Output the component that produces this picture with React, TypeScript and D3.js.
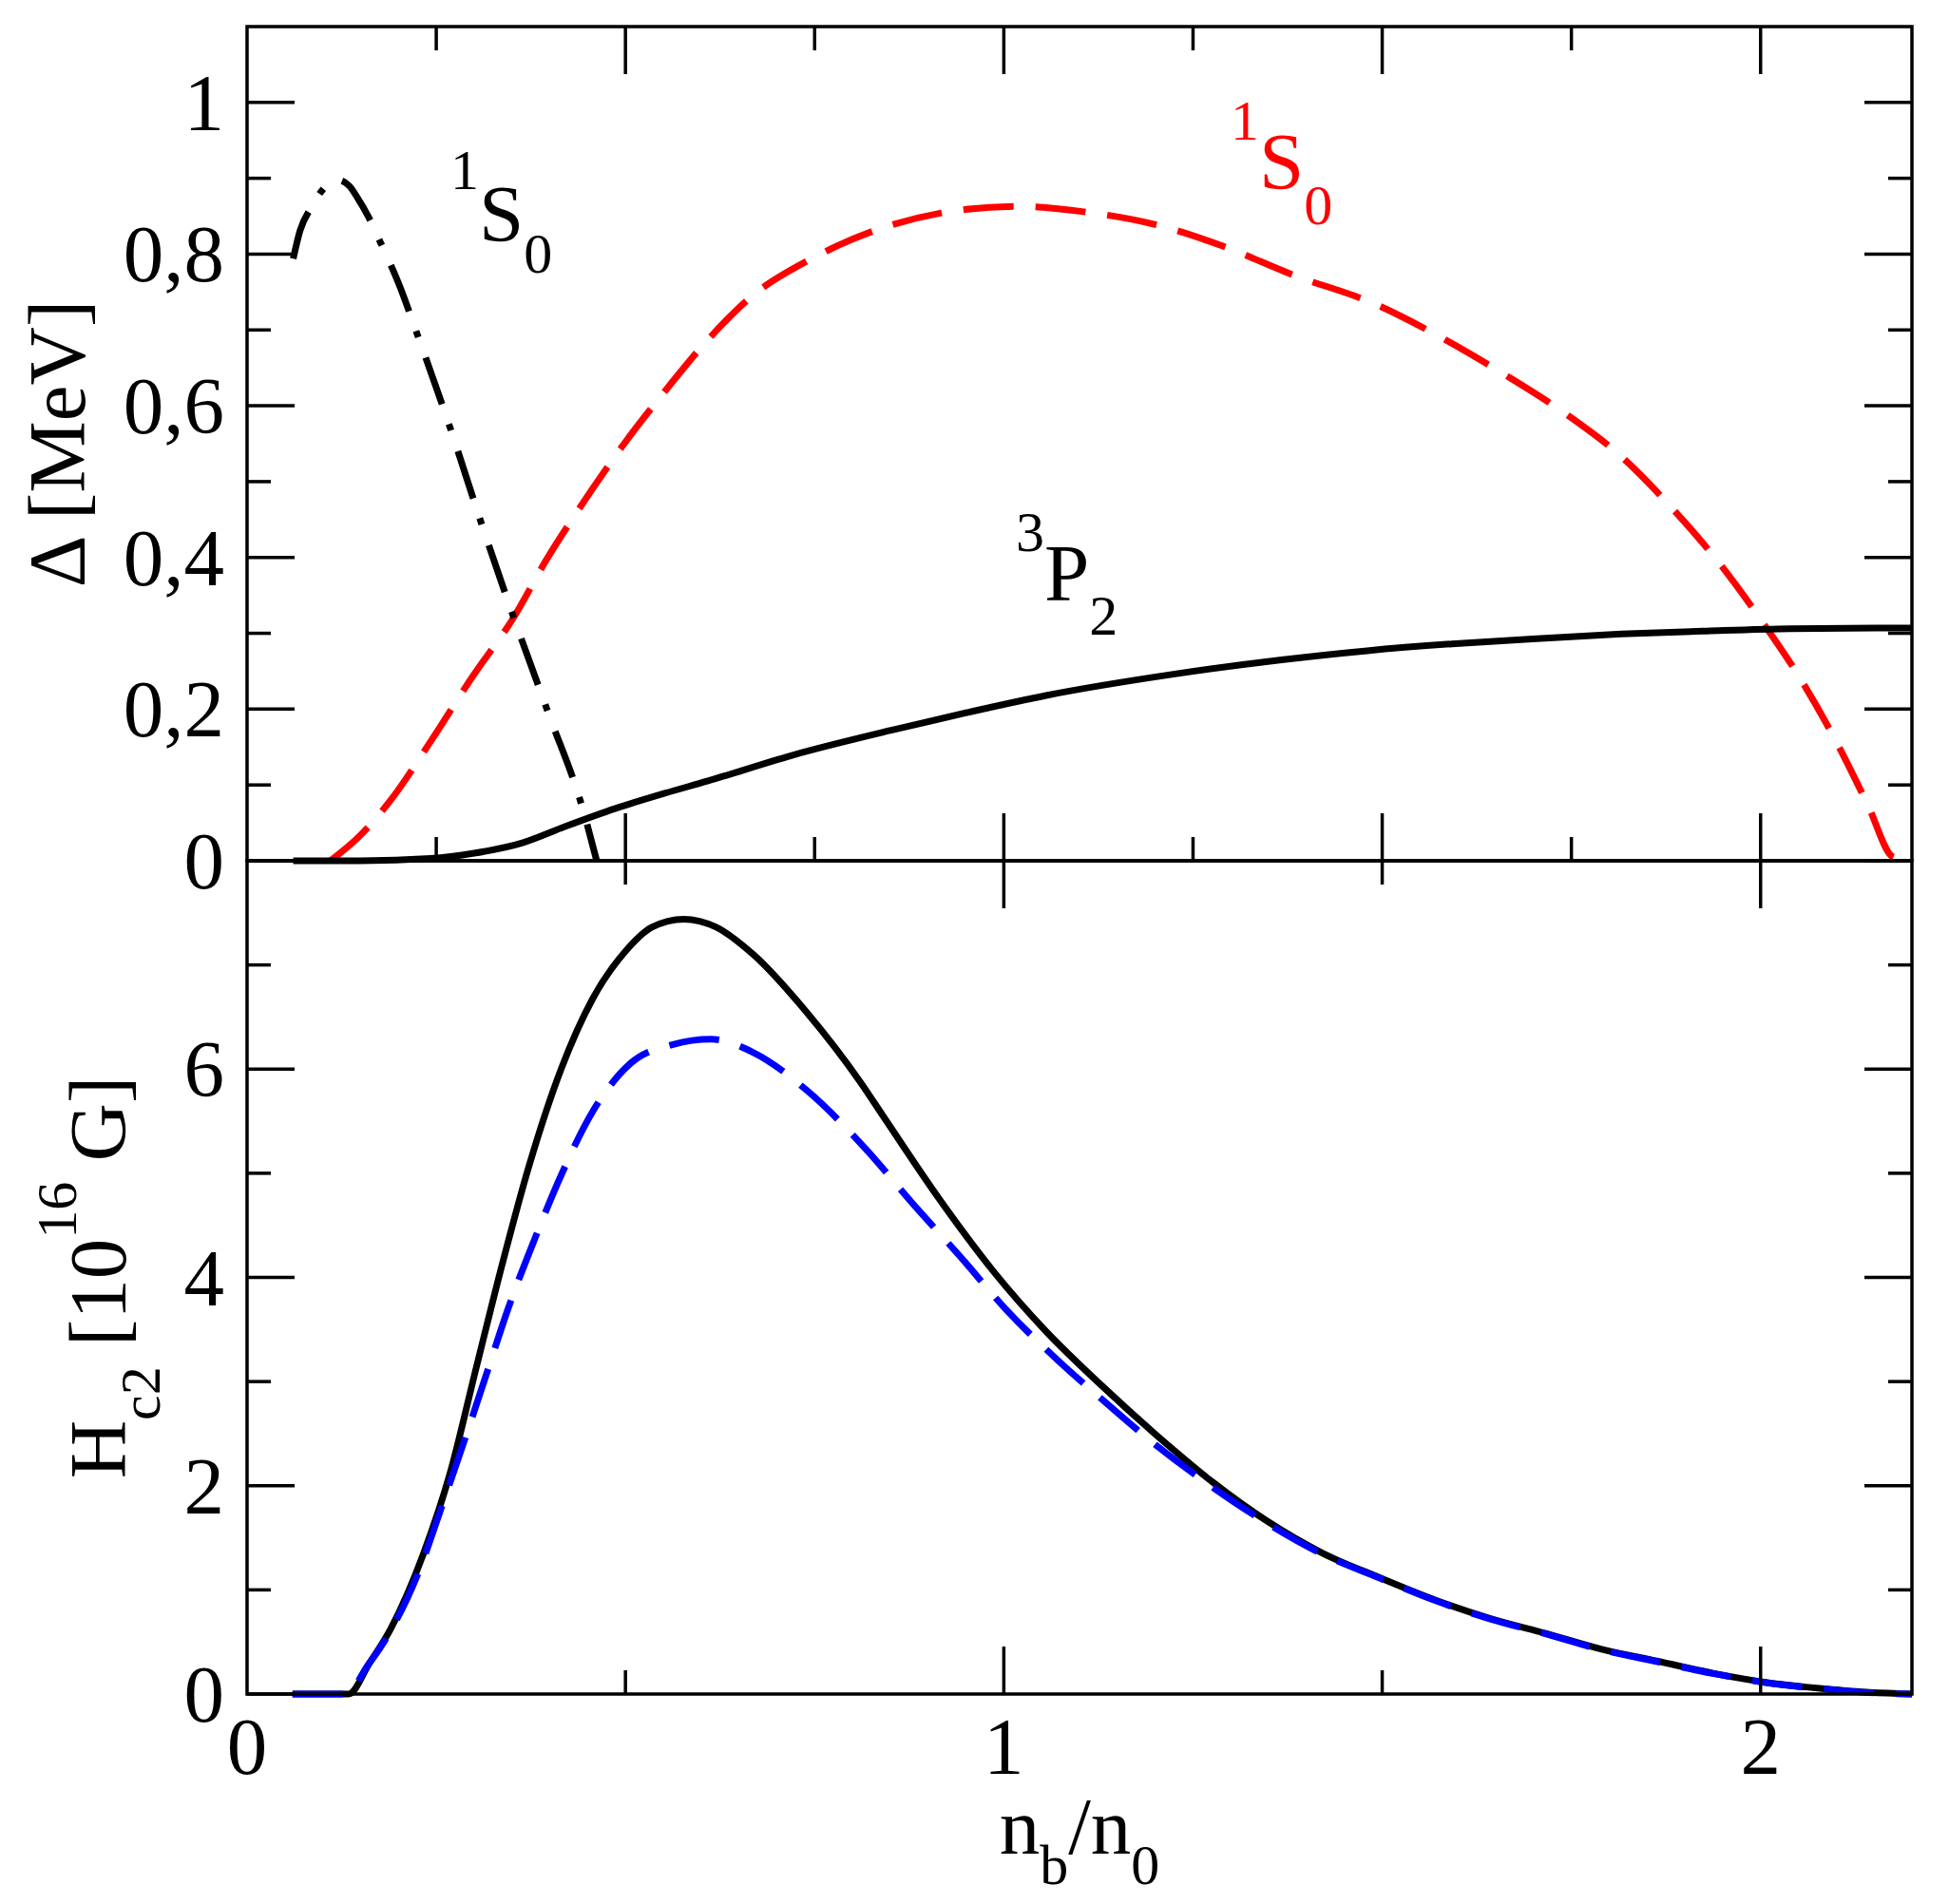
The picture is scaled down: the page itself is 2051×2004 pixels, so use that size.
import React from "react";
import * as d3 from "d3";

// ---------- data ----------
// top panel: gap Δ [MeV] vs n_b/n_0
const n1S0LowX = [0.061, 0.07, 0.085, 0.1, 0.119, 0.135, 0.146, 0.16, 0.176, 0.2, 0.225, 0.268, 0.31, 0.353, 0.398, 0.444, 0.462];
const n1S0LowY = [0.794, 0.831, 0.862, 0.885, 0.898, 0.89, 0.874, 0.85, 0.816, 0.762, 0.694, 0.572, 0.444, 0.319, 0.195, 0.067, 0.0];

const p1S0X = [0.11, 0.146, 0.189, 0.243, 0.298, 0.353, 0.395, 0.444, 0.499, 0.552, 0.608, 0.664, 0.748, 0.832, 0.916, 1.017, 1.112, 1.196, 1.291, 1.381, 1.491, 1.578, 1.662, 1.743, 1.816, 1.883, 1.945, 2.001, 2.052, 2.1, 2.142, 2.175, 2.2];
const p1S0Y = [0.0, 0.03, 0.079, 0.158, 0.243, 0.322, 0.396, 0.472, 0.551, 0.619, 0.686, 0.742, 0.795, 0.832, 0.854, 0.863, 0.855, 0.84, 0.81, 0.773, 0.734, 0.69, 0.641, 0.589, 0.533, 0.465, 0.393, 0.317, 0.241, 0.157, 0.073, 0.005, 0.0];

const n3P2X = [0.061, 0.15, 0.243, 0.3, 0.365, 0.42, 0.487, 0.552, 0.608, 0.72, 0.851, 0.954, 1.056, 1.224, 1.367, 1.48, 1.592, 1.704, 1.816, 1.929, 2.04, 2.2];
const n3P2Y = [0.0, 0.0, 0.003, 0.01, 0.024, 0.045, 0.069, 0.089, 0.105, 0.139, 0.172, 0.196, 0.218, 0.246, 0.265, 0.277, 0.286, 0.293, 0.299, 0.303, 0.306, 0.307];

// bottom panel: H_c2 [10^16 G] vs n_b/n_0
const hc2SolidX = [0.06, 0.134, 0.162, 0.19, 0.233, 0.268, 0.303, 0.338, 0.373, 0.415, 0.457, 0.5, 0.535, 0.577, 0.62, 0.669, 0.739, 0.81, 0.845, 0.915, 0.986, 1.056, 1.128, 1.201, 1.275, 1.348, 1.422, 1.496, 1.569, 1.643, 1.717, 1.79, 1.864, 1.937, 2.011, 2.085, 2.144, 2.2];
const hc2SolidY = [0.0, 0.0, 0.3, 0.629, 1.346, 2.114, 3.138, 4.15, 5.08, 6.0, 6.68, 7.131, 7.362, 7.439, 7.362, 7.1, 6.55, 5.88, 5.5, 4.75, 4.06, 3.48, 2.97, 2.49, 2.04, 1.66, 1.35, 1.12, 0.906, 0.725, 0.58, 0.43, 0.315, 0.2, 0.108, 0.05, 0.015, 0.0];

const hc2DashX = [0.06, 0.13, 0.16, 0.183, 0.225, 0.26, 0.289, 0.317, 0.345, 0.38, 0.415, 0.457, 0.507, 0.563, 0.613, 0.669, 0.739, 0.817, 0.879, 0.942, 1.003, 1.072, 1.128, 1.201, 1.275, 1.348, 1.422, 1.496, 1.569, 1.643, 1.717, 1.79, 1.864, 1.937, 2.011, 2.085, 2.144, 2.2];
const hc2DashY = [0.0, 0.0, 0.28, 0.526, 1.141, 1.858, 2.473, 3.087, 3.701, 4.367, 4.981, 5.596, 6.057, 6.236, 6.287, 6.159, 5.8, 5.237, 4.714, 4.203, 3.691, 3.2, 2.84, 2.39, 1.99, 1.64, 1.34, 1.115, 0.9, 0.72, 0.575, 0.425, 0.31, 0.197, 0.105, 0.048, 0.013, 0.0];

// ticks and labels
const topYLabels = ["0", "0,2", "0,4", "0,6", "0,8", "1"];
const topYMajor = [0, 0.2, 0.4, 0.6, 0.8, 1.0];
const topYMinor = [0.1, 0.3, 0.5, 0.7, 0.9];
const botYLabels = ["0", "2", "4", "6"];
const botYMajor = [0, 2, 4, 6];
const botYMinor = [1, 3, 5, 7];
const topXMajor = [0.5, 1, 1.5, 2];
const topXMinor = [0.25, 0.75, 1.25, 1.75];
const botXMajor = [1, 2];
const botXMinor = [0.5, 1.5];
const xLabels = ["0", "1", "2"];
const xLabelVals = [0, 1, 2];

// ---------- layout ----------
const W = 2051;
const H = 2004;
const L = 260;
const R = 2012;
const T = 28;
const M = 906;
const B = 1783;
const MAJ = 50;
const MIN = 25;
const FONT = "'Liberation Serif', 'Times New Roman', 'DejaVu Serif', serif";
const FS = 85;
const FSS = 60;

const x = d3.scaleLinear().domain([0, 2.2]).range([L, R]);
const yTop = d3.scaleLinear().domain([0, 1.1]).range([M, T]);
const yBot = d3.scaleLinear().domain([0, 8]).range([B, M]);

const zip = (xs: number[], ys: number[]) => xs.map((v, i) => [v, ys[i]] as [number, number]);

const lineTop = d3.line<[number, number]>().x(d => x(d[0])).y(d => yTop(d[1])).curve(d3.curveMonotoneX);
const lineBot = d3.line<[number, number]>().x(d => x(d[0])).y(d => yBot(d[1])).curve(d3.curveMonotoneX);

export default function App() {
  const tickLines: React.ReactNode[] = [];
  let k = 0;
  const tl = (x1: number, y1: number, x2: number, y2: number) =>
    tickLines.push(<line key={k++} x1={x1} y1={y1} x2={x2} y2={y2} stroke="#000" strokeWidth={3.5} />);

  // top panel x ticks
  topXMajor.forEach(v => { tl(x(v), T, x(v), T + MAJ); tl(x(v), M, x(v), M - MAJ); });
  topXMinor.forEach(v => { tl(x(v), T, x(v), T + MIN); tl(x(v), M, x(v), M - MIN); });
  // bottom panel x ticks
  botXMajor.forEach(v => { tl(x(v), M, x(v), M + MAJ); tl(x(v), B, x(v), B - MAJ); });
  botXMinor.forEach(v => { tl(x(v), M, x(v), M + MIN); tl(x(v), B, x(v), B - MIN); });
  // top panel y ticks
  topYMajor.forEach(v => { tl(L, yTop(v), L + MAJ, yTop(v)); tl(R, yTop(v), R - MAJ, yTop(v)); });
  topYMinor.forEach(v => { tl(L, yTop(v), L + MIN, yTop(v)); tl(R, yTop(v), R - MIN, yTop(v)); });
  // bottom panel y ticks
  botYMajor.forEach(v => { tl(L, yBot(v), L + MAJ, yBot(v)); tl(R, yBot(v), R - MAJ, yBot(v)); });
  botYMinor.forEach(v => { tl(L, yBot(v), L + MIN, yBot(v)); tl(R, yBot(v), R - MIN, yBot(v)); });

  return (
    <div>
      <style>{`html,body{margin:0;padding:0;background:#fff;}`}</style>
      <svg width={W} height={H} viewBox={`0 0 ${W} ${H}`} style={{ display: "block" }} fontFamily={FONT}>
        <rect x={0} y={0} width={W} height={H} fill="#fff" />

        {/* curves: top panel */}
        <path d={lineTop(zip(p1S0X, p1S0Y)) || ""} fill="none" stroke="#ff0000" strokeWidth={7} strokeDasharray="53 23" />
        <path d={lineTop(zip(n3P2X, n3P2Y)) || ""} fill="none" stroke="#000" strokeWidth={7} />
        <path d={lineTop(zip(n1S0LowX, n1S0LowY)) || ""} fill="none" stroke="#000" strokeWidth={7} strokeDasharray="52 22 7 23" />

        {/* curves: bottom panel */}
        <path d={lineBot(zip(hc2SolidX, hc2SolidY)) || ""} fill="none" stroke="#000" strokeWidth={7} />
        <path d={lineBot(zip(hc2DashX, hc2DashY)) || ""} fill="none" stroke="#0000ff" strokeWidth={7} strokeDasharray="53 23" />

        {/* frames */}
        <rect x={L} y={T} width={R - L} height={M - T} fill="none" stroke="#000" strokeWidth={3.5} />
        <rect x={L} y={M} width={R - L} height={B - M} fill="none" stroke="#000" strokeWidth={3.5} />
        {tickLines}

        {/* tick labels */}
        {topYMajor.map((v, i) => (
          <text key={"ty" + i} x={236} y={yTop(v) + 29} fontSize={FS} textAnchor="end">{topYLabels[i]}</text>
        ))}
        {botYMajor.map((v, i) => (
          <text key={"by" + i} x={236} y={yBot(v) + 29} fontSize={FS} textAnchor="end">{botYLabels[i]}</text>
        ))}
        {xLabelVals.map((v, i) => (
          <text key={"bx" + i} x={x(v)} y={1867} fontSize={FS} textAnchor="middle">{xLabels[i]}</text>
        ))}

        {/* axis titles */}
        <text transform={`translate(89,${(T + M) / 2}) rotate(-90)`} fontSize={FS} textAnchor="middle">Δ [MeV]</text>
        <text transform={`translate(132,${(M + B) / 2}) rotate(-90)`} fontSize={FS} textAnchor="middle">
          H<tspan fontSize={FSS} dy={36}>c2</tspan><tspan dy={-36}> [10</tspan><tspan fontSize={FSS} dy={-52}>16</tspan><tspan dy={52}> G]</tspan>
        </text>
        <text x={(L + R) / 2} y={1951} fontSize={FS} textAnchor="middle">
          n<tspan fontSize={FSS} dy={32}>b</tspan><tspan dy={-32}>/n</tspan><tspan fontSize={FSS} dy={32}>0</tspan>
        </text>

        {/* annotations */}
        <text x={474} y={254} fontSize={FS} fill="#000">
          <tspan fontSize={FSS} dy={-55}>1</tspan><tspan dy={55}>S</tspan><tspan fontSize={FSS} dy={33}>0</tspan>
        </text>
        <text x={1295} y={199} fontSize={FS} fill="#ff0000">
          <tspan fontSize={FSS} dy={-52}>1</tspan><tspan dy={52}>S</tspan><tspan fontSize={FSS} dy={37}>0</tspan>
        </text>
        <text x={1069} y={632} fontSize={FS} fill="#000">
          <tspan fontSize={FSS} dy={-52}>3</tspan><tspan dy={52}>P</tspan><tspan fontSize={FSS} dy={36}>2</tspan>
        </text>
      </svg>
    </div>
  );
}
